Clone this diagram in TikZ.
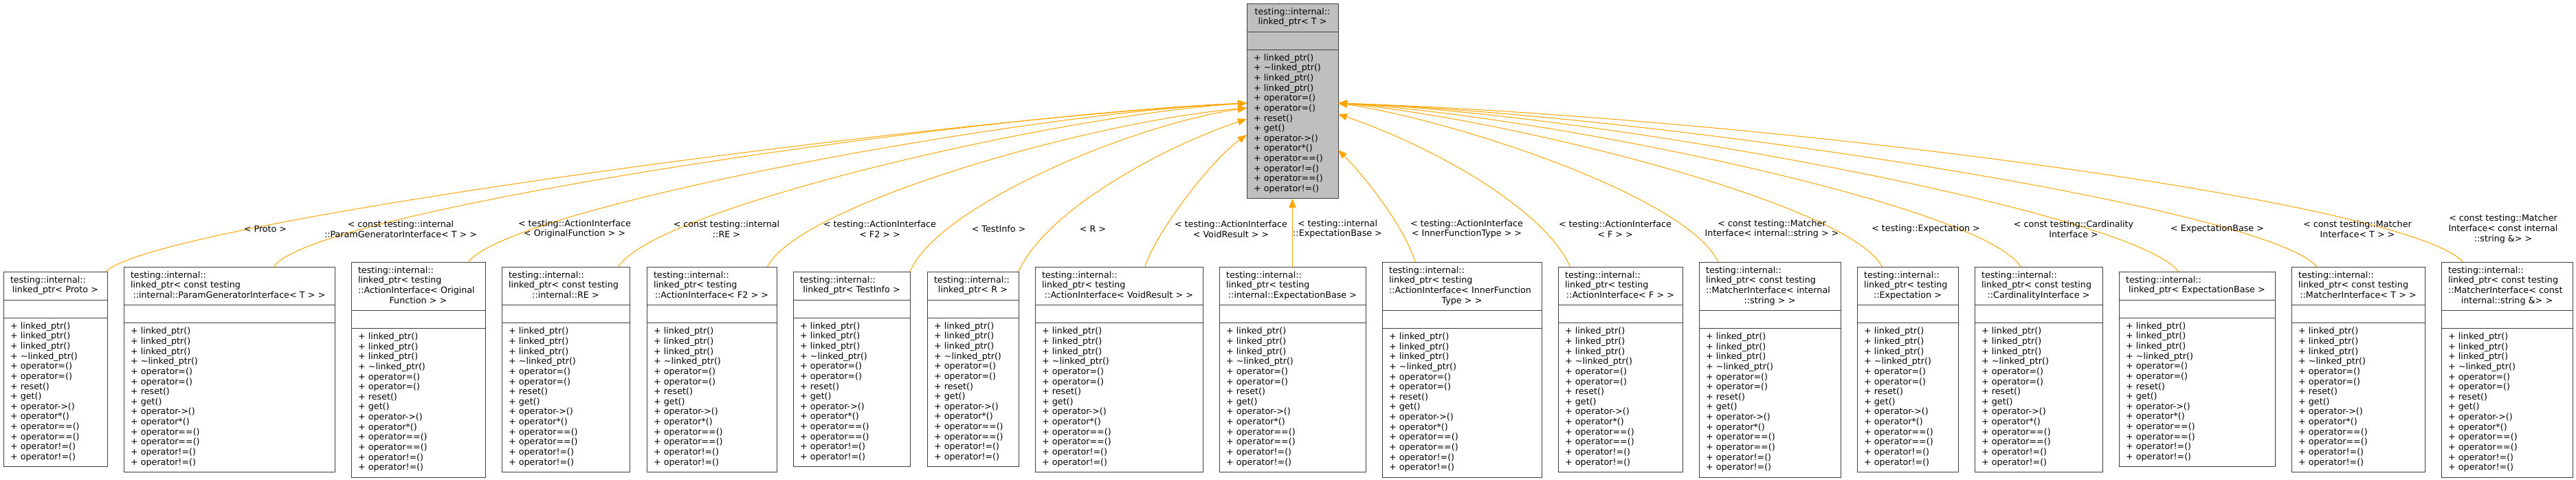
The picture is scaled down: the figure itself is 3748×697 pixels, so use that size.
\documentclass[tikz,border=0pt]{standalone}
\usepackage{fontspec}
\setmainfont{DejaVu Sans}
\usetikzlibrary{shapes.multipart, arrows.meta, calc}
\definecolor{edgeorange}{rgb}{1,0.647,0}
\definecolor{basegray}{rgb}{0.75,0.75,0.75}
\definecolor{boxline}{rgb}{0.25,0.25,0.25}

\newcommand\leftrow[1]{\noindent\makebox[\linewidth][l]{\strut#1}\par}
\newcommand\midrow[1]{\noindent\makebox[\linewidth][c]{\strut#1}\par}
\newcommand\childops{%
  \leftrow{+ linked\_ptr()}\leftrow{+ linked\_ptr()}\leftrow{+ linked\_ptr()}%
  \leftrow{+ \textasciitilde linked\_ptr()}\leftrow{+ operator=()}\leftrow{+ operator=()}%
  \leftrow{+ reset()}\leftrow{+ get()}\leftrow{+ operator->()}\leftrow{+ operator*()}%
  \leftrow{+ operator==()}\leftrow{+ operator==()}\leftrow{+ operator!=()}\leftrow{+ operator!=()}}
\newcommand\baseops{%
  \leftrow{+ linked\_ptr()}\leftrow{+ \textasciitilde linked\_ptr()}\leftrow{+ linked\_ptr()}%
  \leftrow{+ linked\_ptr()}\leftrow{+ operator=()}\leftrow{+ operator=()}%
  \leftrow{+ reset()}\leftrow{+ get()}\leftrow{+ operator->()}\leftrow{+ operator*()}%
  \leftrow{+ operator==()}\leftrow{+ operator!=()}\leftrow{+ operator==()}\leftrow{+ operator!=()}}
\newcommand\noattr{\rule{0pt}{14.3pt}}

\tikzset{
  classbox/.style={rectangle split, rectangle split parts=3, draw=boxline, line width=1pt,
    fill=white, anchor=north west, inner xsep=10pt, inner ysep=5.35pt, outer sep=0pt,
    align=left, font=\fontsize{12.7}{14.65}\selectfont},
  basebox/.style={classbox, fill=basegray},
  instlabel/.style={align=center, inner sep=0pt, font=\fontsize{12.7}{14.65}\selectfont},
  instedge/.style={draw=edgeorange, line width=1pt, -{Triangle[length=13pt,width=10pt]}}
}

\begin{document}
\begin{tikzpicture}[x=1pt,y=-1pt]
\useasboundingbox (0,0) rectangle (3748,697);

% template class
\node (base) [basebox, text width=113pt] at (1814,5) {\midrow{testing::internal::}\midrow{linked\_ptr< T >}
  \nodepart{two}\noattr \nodepart{three}\baseops};

%----------------------------------------------------------------
% instances, left to right
\node (proto) [classbox, text width=131pt] at (5,395) {\leftrow{testing::internal::}\midrow{linked\_ptr< Proto >}
  \nodepart{two}\noattr \nodepart{three}\childops};
\node (pgen) [classbox, text width=287pt] at (180,388) {\leftrow{testing::internal::}\leftrow{linked\_ptr< const testing}\midrow{::internal::ParamGeneratorInterface< T > >}
  \nodepart{two}\noattr \nodepart{three}\childops};
\node (orig) [classbox, text width=175pt] at (511,381) {\leftrow{testing::internal::}\leftrow{linked\_ptr< testing}\leftrow{::ActionInterface< Original}\midrow{Function > >}
  \nodepart{two}\noattr \nodepart{three}\childops};
\node (re) [classbox, text width=166pt] at (730,388) {\leftrow{testing::internal::}\leftrow{linked\_ptr< const testing}\midrow{::internal::RE >}
  \nodepart{two}\noattr \nodepart{three}\childops};
\node (ftwo) [classbox, text width=169pt] at (941,388) {\leftrow{testing::internal::}\leftrow{linked\_ptr< testing}\midrow{::ActionInterface< F2 > >}
  \nodepart{two}\noattr \nodepart{three}\childops};
\node (tinfo) [classbox, text width=150pt] at (1154,395) {\leftrow{testing::internal::}\midrow{linked\_ptr< TestInfo >}
  \nodepart{two}\noattr \nodepart{three}\childops};
\node (rptr) [classbox, text width=113pt] at (1349,395) {\leftrow{testing::internal::}\midrow{linked\_ptr< R >}
  \nodepart{two}\noattr \nodepart{three}\childops};
\node (voidres) [classbox, text width=224pt] at (1506,388) {\leftrow{testing::internal::}\leftrow{linked\_ptr< testing}\midrow{::ActionInterface< VoidResult > >}
  \nodepart{two}\noattr \nodepart{three}\childops};
\node (iexpb) [classbox, text width=193pt] at (1774,388) {\leftrow{testing::internal::}\leftrow{linked\_ptr< testing}\midrow{::internal::ExpectationBase >}
  \nodepart{two}\noattr \nodepart{three}\childops};
\node (inner) [classbox, text width=212pt] at (2011,381) {\leftrow{testing::internal::}\leftrow{linked\_ptr< testing}\leftrow{::ActionInterface< InnerFunction}\midrow{Type > >}
  \nodepart{two}\noattr \nodepart{three}\childops};
\node (fptr) [classbox, text width=161pt] at (2267,388) {\leftrow{testing::internal::}\leftrow{linked\_ptr< testing}\midrow{::ActionInterface< F > >}
  \nodepart{two}\noattr \nodepart{three}\childops};
\node (mstr) [classbox, text width=186pt] at (2472,381) {\leftrow{testing::internal::}\leftrow{linked\_ptr< const testing}\leftrow{::MatcherInterface< internal}\midrow{::string > >}
  \nodepart{two}\noattr \nodepart{three}\childops};
\node (expect) [classbox, text width=127pt] at (2702,388) {\leftrow{testing::internal::}\leftrow{linked\_ptr< testing}\midrow{::Expectation >}
  \nodepart{two}\noattr \nodepart{three}\childops};
\node (card) [classbox, text width=166pt] at (2873,388) {\leftrow{testing::internal::}\leftrow{linked\_ptr< const testing}\midrow{::CardinalityInterface >}
  \nodepart{two}\noattr \nodepart{three}\childops};
\node (expb) [classbox, text width=207pt] at (3083,395) {\leftrow{testing::internal::}\midrow{linked\_ptr< ExpectationBase >}
  \nodepart{two}\noattr \nodepart{three}\childops};
\node (mint) [classbox, text width=174pt] at (3334,388) {\leftrow{testing::internal::}\leftrow{linked\_ptr< const testing}\midrow{::MatcherInterface< T > >}
  \nodepart{two}\noattr \nodepart{three}\childops};
\node (mcstr) [classbox, text width=171pt] at (3552,381) {\leftrow{testing::internal::}\leftrow{linked\_ptr< const testing}\leftrow{::MatcherInterface< const}\midrow{internal::string \&> >}
  \nodepart{two}\noattr \nodepart{three}\childops};

%----------------------------------------------------------------
% arrival points on the template class
\coordinate (inl1) at ([yshift=-145pt]base.north west);
\coordinate (inl2) at ([yshift=-152pt]base.north west);
\coordinate (inl3) at ([yshift=-168pt]base.north west);
\coordinate (inl4) at ([yshift=-191pt]base.north west);
\coordinate (inr1) at ([yshift=-145pt]base.north east);
\coordinate (inr2) at ([yshift=-161pt]base.north east);
\coordinate (inr3) at ([yshift=-213pt]base.north east);

\draw [instedge] ([xshift=-2pt]proto.north east) .. controls +(76,-75) and +(-414,20) .. (inl1);
\draw [instedge] ([xshift=65pt]pgen.north) .. controls +(55,-85) and +(-380,15) .. (inl1);
\draw [instedge] ([xshift=73pt]orig.north) .. controls +(60,-80) and +(-330,15) .. (inl1);
\draw [instedge] ([xshift=77pt]re.north) .. controls +(50,-85) and +(-280,18) .. (inl1);
\draw [instedge] ([xshift=81pt]ftwo.north) .. controls +(45,-90) and +(-230,20) .. (inl2);
\draw [instedge] (tinfo.north east) .. controls +(40,-95) and +(-170,25) .. (inl2);
\draw [instedge] (rptr.north east) .. controls +(40,-90) and +(-120,40) .. (inl3);
\draw [instedge] ([xshift=38pt]voidres.north) .. controls +(15,-50) and +(-50,35) .. (inl4);
\draw [instedge] (iexpb.north) -- (base.south);
\draw [instedge] ([xshift=-68pt]inner.north) .. controls +(-15,-50) and +(40,40) .. (inr3);
\draw [instedge] ([xshift=-73pt]fptr.north) .. controls +(-40,-90) and +(120,40) .. (inr2);
\draw [instedge] ([xshift=-75pt]mstr.north) .. controls +(-45,-95) and +(170,25) .. (inr1);
\draw [instedge] ([xshift=-37pt]expect.north) .. controls +(-50,-95) and +(230,20) .. (inr1);
\draw [instedge] ([xshift=-26pt]card.north) .. controls +(-55,-90) and +(300,18) .. (inr1);
\draw [instedge] ([xshift=-27pt]expb.north) .. controls +(-60,-85) and +(380,15) .. (inr1);
\draw [instedge] ([xshift=-60pt]mint.north) .. controls +(-70,-85) and +(480,18) .. (inr1);
\draw [instedge] ([xshift=-64pt]mcstr.north) .. controls +(-80,-90) and +(600,20) .. (inr1);

%----------------------------------------------------------------
% template arguments
\node (lproto) [instlabel] at (386,333) {< Proto >};
\node (lpgen) [instlabel] at (583,333) {< const testing::internal\\::ParamGeneratorInterface< T > >};
\node (lorig) [instlabel] at (836,333) {< testing::ActionInterface\\< OriginalFunction > >};
\node (lre) [instlabel] at (1057,333) {< const testing::internal\\::RE >};
\node (lftwo) [instlabel] at (1280,333) {< testing::ActionInterface\\< F2 > >};
\node (ltinfo) [instlabel] at (1453,333) {< TestInfo >};
\node (lrptr) [instlabel] at (1590,333) {< R >};
\node (lvoidres) [instlabel] at (1791,333) {< testing::ActionInterface\\< VoidResult > >};
\node (liexpb) [instlabel] at (1946,333) {< testing::internal\\::ExpectationBase >};
\node (linner) [instlabel] at (2134,333) {< testing::ActionInterface\\< InnerFunctionType > >};
\node (lfptr) [instlabel] at (2350,333) {< testing::ActionInterface\\< F > >};
\node (lmstr) [instlabel] at (2578,333) {< const testing::Matcher\\Interface< internal::string > >};
\node (lexpect) [instlabel] at (2802,333) {< testing::Expectation >};
\node (lcard) [instlabel] at (3017,333) {< const testing::Cardinality\\Interface >};
\node (lexpb) [instlabel] at (3226,333) {< ExpectationBase >};
\node (lmint) [instlabel] at (3430,333) {< const testing::Matcher\\Interface< T > >};
\node (lmcstr) [instlabel] at (3642,333) {< const testing::Matcher\\Interface< const internal\\::string \&> >};

\end{tikzpicture}
\end{document}
